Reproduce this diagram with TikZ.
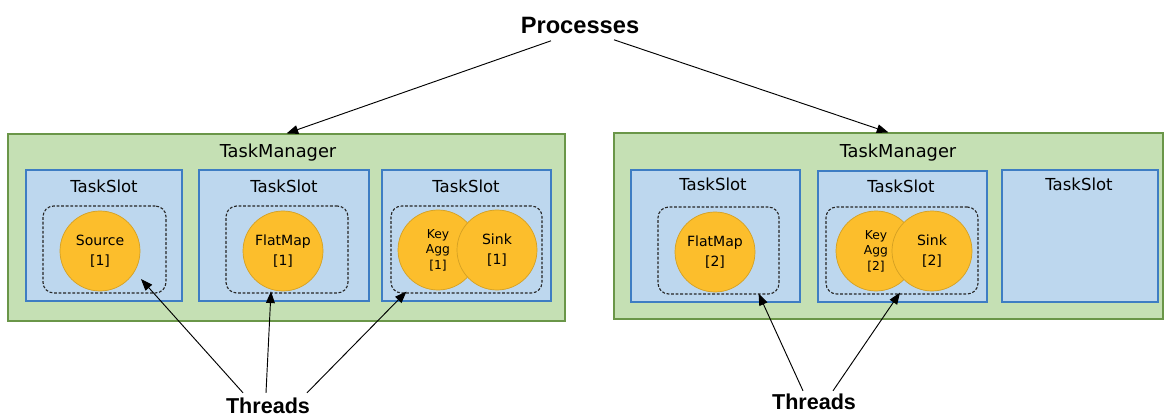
\documentclass[tikz,border=0pt]{standalone}
\usepackage{fontspec}
\setmainfont{DejaVu Sans}
\newfontfamily\headfont{Liberation Sans}
\usetikzlibrary{arrows.meta, positioning, calc, fit}
\definecolor{tmgreen}{RGB}{197,224,180}
\definecolor{tmedge}{RGB}{106,150,72}
\definecolor{slotblue}{RGB}{189,215,238}
\definecolor{slotedge}{RGB}{62,125,195}
\definecolor{opfill}{RGB}{252,190,44}
\definecolor{opedge}{RGB}{212,160,35}
\tikzset{
  tmbox/.style={draw=tmedge, fill=tmgreen, line width=0.9pt, inner sep=0pt},
  slotbox/.style={draw=slotedge, fill=slotblue, line width=0.9pt, inner sep=0pt},
  grpbox/.style={draw=black!85, dash pattern=on 2.4pt off 1.5pt, line width=0.95pt,
                 rounded corners=3.2mm, inner sep=0pt},
  opnode/.style={circle, draw=opedge, fill=opfill, line width=0.6pt,
                 minimum size=24mm, inner sep=0pt, align=center,
                 font=\fontsize{12}{17.5}\selectfont},
  keynode/.style={opnode, font=\fontsize{10.5}{13.2}\selectfont},
  tmlbl/.style={anchor=base, font=\fontsize{15.2}{18}\selectfont},
  slotlbl/.style={anchor=base, font=\fontsize{14.1}{17}\selectfont},
  biglbl/.style={anchor=base, inner sep=2pt, font=\headfont\bfseries\fontsize{20.2}{24}\selectfont},
  thrlbl/.style={biglbl, font=\headfont\bfseries\fontsize{18.4}{22}\selectfont},
  arr/.style={-{Triangle[length=10pt, width=7.5pt]}, line width=0.8pt},
}

\begin{document}
\begin{tikzpicture}[x=0.3mm, y=-0.3mm]
  \useasboundingbox (0,0) rectangle (1164,417);

  % task managers
  \node[tmbox, fit={(8,134) (565,321)}]   (tmL) {};
  \node[tmbox, fit={(614,133) (1163,319)}] (tmR) {};
  \node[tmlbl] at (278,158) {TaskManager};
  \node[tmlbl] at (898,157) {TaskManager};

  % slots
  \node[slotbox, fit={(26,170) (182,301)}]    (slA) {};
  \node[slotbox, fit={(199,170) (369,301)}]   (slB) {};
  \node[slotbox, fit={(382,170) (551,301)}]   (slC) {};
  \node[slotbox, fit={(631,170) (800,302)}]   (slD) {};
  \node[slotbox, fit={(818,171) (987,302)}]   (slE) {};
  \node[slotbox, fit={(1002,170) (1158,302)}] (slF) {};
  \node[slotlbl] at (104,192)  {TaskSlot};
  \node[slotlbl] at (284,192)  {TaskSlot};
  \node[slotlbl] at (466,192)  {TaskSlot};
  \node[slotlbl] at (713,190)  {TaskSlot};
  \node[slotlbl] at (901,192)  {TaskSlot};
  \node[slotlbl] at (1079,190) {TaskSlot};

  % thread groups
  \node[grpbox, fit={(43,206) (166,293)}]  (grpA) {};
  \node[grpbox, fit={(226,206) (348,293)}] (grpB) {};
  \node[grpbox, fit={(391,206) (542,293)}] (grpC) {};
  \node[grpbox, fit={(658,207) (779,294)}] (grpD) {};
  \node[grpbox, fit={(826,207) (978,294)}] (grpE) {};

  % operators
  \node[opnode]  (srcA) at (100,251) {Source\\{[1]}};
  \node[opnode]  (fmA)  at (283,251) {FlatMap\\{[1]}};
  \node[keynode] (kaA)  at (438,250) {Key\\Agg\\{[1]}};
  \node[opnode]  (skA)  at (497,250) {Sink\\{[1]}};
  \node[opnode]  (fmB)  at (715,252) {FlatMap\\{[2]}};
  \node[keynode] (kaB)  at (876,251) {Key\\Agg\\{[2]}};
  \node[opnode]  (skB)  at (932,251) {Sink\\{[2]}};

  % labels
  \node[biglbl] (proc) at (580,34)  {Processes};
  \node[thrlbl] (thrL) at (268,413) {Threads};
  \node[thrlbl] (thrR) at (814,409) {Threads};

  \draw[arr] ($(proc.south)+(-29,4)$) -- (tmL.north);
  \draw[arr] ($(proc.south)+(34,3)$)  -- (tmR.north);

  \draw[arr] ($(thrL.north)+(-25,-2)$) -- ($(srcA)+(41,28)$);
  \draw[arr] ($(thrL.north)+(-2,-2)$)  -- ($(fmA.south)+(-12,0)$);
  \draw[arr] ($(thrL.north)+(39,-2)$)  -- ($(grpC.south west)+(16,-2)$);
  \draw[arr] ($(thrR.north)+(-11,0)$)  -- ($(grpD.south east)+(-21,-1)$);
  \draw[arr] ($(thrR.north)+(19,0)$)   -- ($(grpE.south)+(-2,-2)$);
\end{tikzpicture}
\end{document}
